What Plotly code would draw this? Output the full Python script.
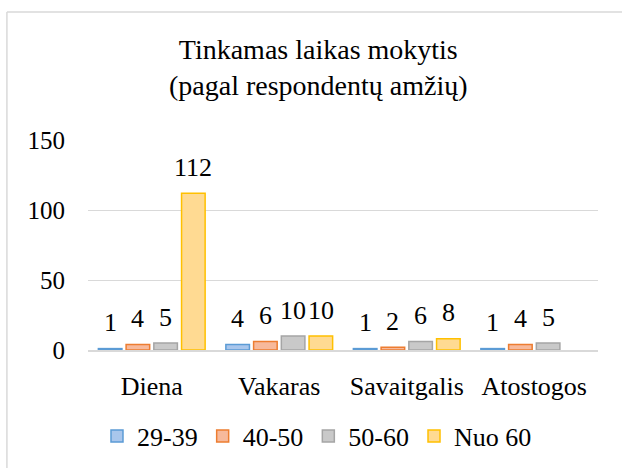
import plotly.graph_objects as go

categories = ["Diena", "Vakaras", "Savaitgalis", "Atostogos"]
series_names = ["29-39", "40-50", "50-60", "Nuo 60"]
v_29_39 = [1, 4, 1, 1]
v_40_50 = [4, 6, 2, 4]
v_50_60 = [5, 10, 6, 5]
v_nuo60 = [112, 10, 8, None]
y_ticks = [0, 50, 100, 150]
title_lines = ["Tinkamas laikas mokytis", "(pagal respondentų amžių)"]

fills = ["#A9C6EC", "#F7B99B", "#C9C9C9", "#FFDA92"]
lines = ["#5B9BD5", "#ED7D31", "#A5A5A5", "#FFC000"]
FONT = "Liberation Serif"
BARGAP = 0.13
GROUPGAP = 0.15

all_series = [v_29_39, v_40_50, v_50_60, v_nuo60]
fig = go.Figure()
annotations = []
n = len(all_series)
slot = (1 - BARGAP) / n
for k, (name, vals, fc, lc) in enumerate(zip(series_names, all_series, fills, lines)):
    fig.add_trace(go.Bar(
        x=categories, y=vals, name=name,
        marker=dict(color=fc, line=dict(color=lc, width=1.5)),
    ))
    for i, v in enumerate(vals):
        if v is None:
            continue
        annotations.append(dict(
            x=i - (1 - BARGAP) / 2 + (k + 0.5) * slot, y=v, xref="x", yref="y",
            text=str(v), showarrow=False, yanchor="middle", yshift=26,
            font=dict(family=FONT, size=26, color="#000000"),
        ))

annotations.append(dict(
    x=0.451, y=1.345, xref="paper", yref="paper", xanchor="center", yanchor="middle",
    text="<br>".join(title_lines), showarrow=False,
    font=dict(family=FONT, size=28, color="#000000"),
))

fig.update_layout(
    width=622, height=468,
    margin=dict(l=88, r=24, t=140, b=118, autoexpand=False),
    paper_bgcolor="white", plot_bgcolor="white",
    font=dict(family=FONT, color="#000000"),
    barmode="group", bargap=BARGAP, bargroupgap=GROUPGAP,
    showlegend=True,
    legend=dict(orientation="h", x=0.449, xanchor="center", y=-0.41, yanchor="middle",
                font=dict(family=FONT, size=26, color="#000000"),
                itemwidth=30, tracegroupgap=0),
    annotations=annotations,
    shapes=[
        dict(type="line", xref="paper", yref="paper", x0=-0.159, x1=-0.159, y0=-1.0, y1=1.61,
             line=dict(color="#D9D9D9", width=1.5), layer="below"),
        dict(type="line", xref="paper", yref="paper", x0=-0.159, x1=1.2, y0=1.61, y1=1.61,
             line=dict(color="#D9D9D9", width=1.5), layer="below"),
    ],
)
fig.update_yaxes(range=[0, 150], tickvals=y_ticks, showgrid=True, gridcolor="#D9D9D9", gridwidth=1,
                 zeroline=False, showline=False, ticks="", automargin=False, ticklabelstandoff=22,
                 tickfont=dict(family=FONT, size=25, color="#000000"))
fig.update_xaxes(showline=True, linecolor="#D9D9D9", linewidth=1.5, ticks="", automargin=False,
                 ticklabelstandoff=12,
                 tickfont=dict(family=FONT, size=26, color="#000000"))

fig.write_html("out.html", config={"displayModeBar": False},
               post_script="document.body.style.margin='0';document.body.style.overflow='hidden';")
